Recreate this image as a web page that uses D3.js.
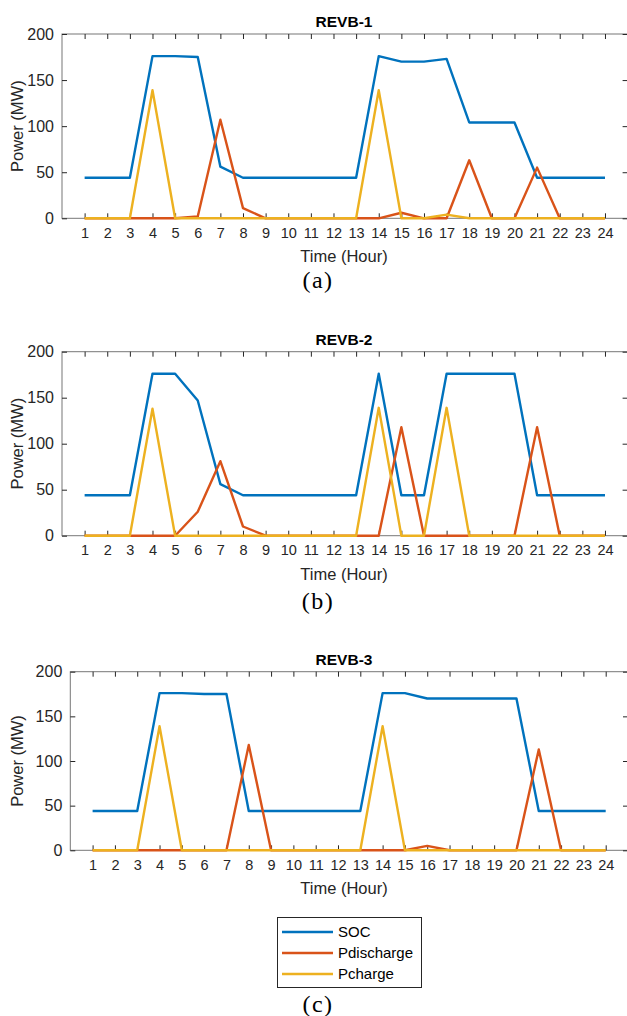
<!DOCTYPE html>
<html lang='en'>
  <head>
    <style type='text/css'>
      body {margin: 0; background-color: #fff;}
      #visualization {width: 627px; height: 1016px; overflow: hidden;}
    </style>
  </head>
  <body>
    <div id='visualization'>
      <svg width='627' height='1016'></svg>
    </div>

    <script src='https://d3js.org/d3.v7.min.js'></script>
    <script type='text/javascript'>
        // hours on the x axis
        var hours = d3.range(1, 25);
        var yTicks = [0, 50, 100, 150, 200];
        var seriesNames = ["SOC", "Pdischarge", "Pcharge"];
        var titles = ["REVB-1", "REVB-2", "REVB-3"];
        var captions = ["(a)", "(b)", "(c)"];

        // REVB-1
        var soc1        = [44,44,44,176,176,175,56,44,44,44,44,44,44,176,170,170,173,104,104,104,44,44,44,44];
        var discharge1  = [0,0,0,0,0,2,107,11,0,0,0,0,0,0,6,0,0,63,0,0,55,0,0,0];
        var charge1     = [0,0,0,139,0,0,0,0,0,0,0,0,0,139,0,0,4,0,0,0,0,0,0,0];

        // REVB-2
        var soc2        = [44,44,44,176,176,147,56,44,44,44,44,44,44,176,44,44,176,176,176,176,44,44,44,44];
        var discharge2  = [0,0,0,0,0,26,81,10,0,0,0,0,0,0,118,0,0,0,0,0,118,0,0,0];
        var charge2     = [0,0,0,138,0,0,0,0,0,0,0,0,0,139,0,0,139,0,0,0,0,0,0,0];

        // REVB-3
        var soc3        = [44,44,44,176,176,175,175,44,44,44,44,44,44,176,176,170,170,170,170,170,44,44,44,44];
        var discharge3  = [0,0,0,0,0,0,0,118,0,0,0,0,0,0,0,5,0,0,0,0,113,0,0,0];
        var charge3     = [0,0,0,139,0,0,0,0,0,0,0,0,0,139,0,0,0,0,0,0,0,0,0,0];

        var colors = ["#0072BD", "#D95319", "#EDB120"];
        var font = "'Liberation Sans', Arial, sans-serif";

        var svg = d3.select("svg");

        // one entry per subplot
        var panels = [
          {top: 34,    bottom: 218.3, left: 62,   right: 627.6, data: [soc1, discharge1, charge1]},
          {top: 351.7, bottom: 535.7, left: 62,   right: 627.6, data: [soc2, discharge2, charge2]},
          {top: 671.7, bottom: 850.3, left: 70.3, right: 628,   data: [soc3, discharge3, charge3]}
        ];

        panels.forEach(function(p, k) {
          var x = d3.scaleLinear().domain([0, 25]).range([p.left, p.right]);
          var y = d3.scaleLinear().domain([0, 200]).range([p.bottom, p.top]);
          var g = svg.append("g");
          var axisColor = "#262626";

          // box
          g.append("rect")
            .attr("x", p.left).attr("y", p.top)
            .attr("width", p.right - p.left).attr("height", p.bottom - p.top)
            .style("fill", "none").style("stroke", "#777").style("stroke-width", 1);

          // ticks along bottom and top (pointing inwards)
          g.append("g").attr("transform", "translate(0," + p.bottom + ")")
            .call(d3.axisBottom(x).tickValues(hours).tickSizeInner(-5).tickSizeOuter(0).tickPadding(9))
            .call(function(a) {
              a.select(".domain").remove();
              a.selectAll("line").style("stroke", axisColor);
              a.selectAll("text").attr("font-family", font).attr("font-size", 14.5).style("fill", axisColor);
            });
          g.append("g").attr("transform", "translate(0," + p.top + ")")
            .call(d3.axisTop(x).tickValues(hours).tickSizeInner(-5).tickSizeOuter(0).tickFormat(""))
            .call(function(a) {
              a.select(".domain").remove();
              a.selectAll("line").style("stroke", axisColor);
            });

          // ticks left and right
          g.append("g").attr("transform", "translate(" + p.left + ",0)")
            .call(d3.axisLeft(y).tickValues(yTicks).tickSizeInner(-5).tickSizeOuter(0).tickPadding(8))
            .call(function(a) {
              a.select(".domain").remove();
              a.selectAll("line").style("stroke", axisColor);
              a.selectAll("text").attr("font-family", font).attr("font-size", 16).style("fill", axisColor);
            });
          g.append("g").attr("transform", "translate(" + p.right + ",0)")
            .call(d3.axisRight(y).tickValues(yTicks).tickSizeInner(-5).tickSizeOuter(0).tickFormat(""))
            .call(function(a) {
              a.select(".domain").remove();
              a.selectAll("line").style("stroke", axisColor);
            });

          // the three series
          var line = d3.line()
            .x(function(d, i) { return x(hours[i]); })
            .y(function(d) { return y(d); });
          p.data.forEach(function(values, j) {
            g.append("path")
              .datum(values)
              .attr("d", line)
              .style("fill", "none")
              .style("stroke", colors[j])
              .style("stroke-width", 2.4)
              .style("stroke-linejoin", "round");
          });

          // title
          g.append("text")
            .attr("x", 344).attr("y", p.top - 7)
            .attr("text-anchor", "middle")
            .attr("font-family", font).attr("font-size", 15.5).attr("font-weight", "bold")
            .style("fill", "#000")
            .text(titles[k]);

          // axis labels
          g.append("text")
            .attr("x", 344).attr("y", p.bottom + 44)
            .attr("text-anchor", "middle")
            .attr("font-family", font).attr("font-size", 16.5)
            .style("fill", axisColor)
            .text("Time (Hour)");
          g.append("text")
            .attr("transform", "translate(23," + (p.top + p.bottom) / 2 + ") rotate(-90)")
            .attr("text-anchor", "middle")
            .attr("font-family", font).attr("font-size", 16.5)
            .style("fill", axisColor)
            .text("Power (MW)");
        });

        // captions (a) (b) (c)
        var captionY = [288, 609, 1012];
        captions.forEach(function(c, k) {
          svg.append("text")
            .attr("x", 318).attr("y", captionY[k])
            .attr("text-anchor", "middle")
            .attr("font-family", "'Liberation Serif', 'Times New Roman', serif")
            .attr("font-size", 24)
            .attr("letter-spacing", 1.5)
            .style("fill", "#000")
            .text(c);
        });

        // legend
        var legend = svg.append("g");
        legend.append("rect")
          .attr("x", 277.5).attr("y", 917.5).attr("width", 144).attr("height", 70)
          .style("fill", "#fff").style("stroke", "#262626").style("stroke-width", 1);
        seriesNames.forEach(function(name, j) {
          var ly = 932 + j * 21;
          legend.append("line")
            .attr("x1", 282).attr("x2", 333).attr("y1", ly).attr("y2", ly)
            .style("stroke", colors[j]).style("stroke-width", 2.4);
          legend.append("text")
            .attr("x", 338).attr("y", ly).attr("dy", "0.35em")
            .attr("font-family", font).attr("font-size", 15)
            .style("fill", "#000")
            .text(name);
        });
    </script>
  </body>
</html>
